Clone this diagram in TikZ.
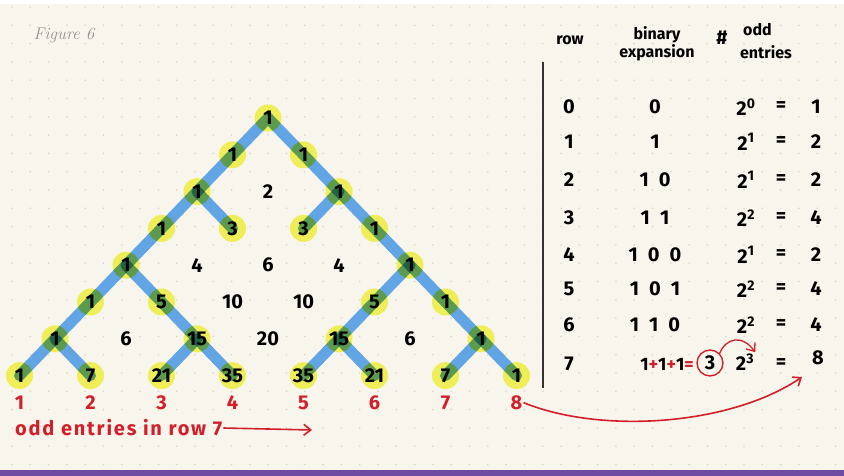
\documentclass[tikz,border=0pt]{standalone}
\usepackage{fontspec}
\newfontfamily\handfont{Fira Sans}
\usetikzlibrary{arrows.meta}
\definecolor{paper}{HTML}{F8F5EC}
\definecolor{dotgray}{HTML}{D9D5C9}
\definecolor{band}{HTML}{6E4BA0}
\definecolor{hilite}{HTML}{F0EE58}
\definecolor{pathblue}{HTML}{62A5E4}
\definecolor{inkred}{HTML}{D21F2A}

\begin{document}
\begin{tikzpicture}[x=1pt,y=-1pt,
  hand/.style={font=\handfont\bfseries\fontsize{20}{22}\selectfont, inner sep=1pt},
  head/.style={font=\handfont\bfseries\fontsize{16}{15}\selectfont, inner sep=1pt},
  oddspot/.style={fill=hilite},
  oddpath/.style={draw=pathblue, line width=11pt, line cap=round},
  redpen/.style={draw=inkred, line width=1.6pt, -{Straight Barb[length=7pt,width=11pt]}},
  note/.style={hand, text=inkred}]
\useasboundingbox (0,0) rectangle (844,476);
\fill[paper] (0,0) rectangle (844,476);
\fill[white] (0,0) rectangle (844,4);
\fill[band] (0,470) rectangle (844,476);
\foreach \i in {0,...,45}
  \foreach \j in {0,...,25}
    \fill[dotgray] ({12+\i*18.3},{7+\j*18.3}) circle (0.9pt);

\node[text=gray!85, font=\itshape\fontsize{17}{18}\selectfont, anchor=west] (figlabel) at (30,35) {Figure 6};

\def\pascalrows{0/{1},1/{1,1},2/{1,2,1},3/{1,3,3,1},4/{1,4,6,4,1},5/{1,5,10,10,5,1},6/{1,6,15,20,15,6,1},7/{1,7,21,35,35,21,7,1}}

\begin{scope}[blend group=multiply]
\foreach \n/\vals in \pascalrows {
  \foreach \v [count=\k from 0] in \vals {
    \coordinate (p-\n-\k) at ({268+(2*\k-\n)*35.5},{118+\n*36.8});
    \pgfmathtruncatemacro{\odd}{mod(\v,2)}
    \ifnum\odd=1 \fill[oddspot] (p-\n-\k) circle (13.5pt); \fi
  }
}
\draw[oddpath] (p-7-0) -- (p-0-0) -- (p-7-7);
\draw[oddpath] (p-2-0) -- (p-3-1);
\draw[oddpath] (p-2-2) -- (p-3-2);
\draw[oddpath] (p-4-0) -- (p-7-3);
\draw[oddpath] (p-4-4) -- (p-7-4);
\draw[oddpath] (p-6-0) -- (p-7-1);
\draw[oddpath] (p-6-2) -- (p-7-2);
\draw[oddpath] (p-6-4) -- (p-7-5);
\draw[oddpath] (p-6-6) -- (p-7-6);
\end{scope}

\foreach \n/\vals in \pascalrows {
  \foreach \v [count=\k from 0] in \vals {
    \node[hand] (e-\n-\k) at (p-\n-\k) {\v};
  }
}

\foreach \k [count=\c] in {0,...,7}
  \node[note] (cnt-\c) at ([yshift=-27pt]p-7-\k) {\c};

\node[note, font=\handfont\bfseries\fontsize{20}{22}\selectfont\addfontfeature{LetterSpace=9}, anchor=west] (row7note) at (14,428) {odd entries in row 7};
\coordinate (note-tip) at (312,430);
\draw[redpen] (row7note.east) -- (note-tip);

\coordinate (rule-top) at (543,62);
\coordinate (rule-bot) at (543,388);
\draw[line width=1.3pt, black!80] (rule-top) -- (rule-bot);

\node[head] (h-row) at (570,40) {row};
\node[head, align=center] (h-bin) at (657,44) {binary\\expansion};
\node[hand] (h-hash) at (722,38) {\#};
\node[head, anchor=west] (h-odd) at (742,30) {odd};
\node[head] (h-ent) at (766,52) {entries};

\foreach \r/\b/\e/\val/\y in {0/0/0/1/107, 1/1/1/2/142, 2/1\enspace0/1/2/180,
    3/1\enspace1/2/4/218, 4/1\enspace0\enspace0/1/2/255, 5/1\enspace0\enspace1/2/4/289,
    6/1\enspace1\enspace0/2/4/325} {
  \node[hand] (r-\r) at (569,\y) {\r};
  \node[hand] (b-\r) at (655,\y) {\b};
  \node[hand] (pw-\r) at (746,\y) {2\textsuperscript{\e}};
  \node[hand] (eq-\r) at (781,\y) {=};
  \node[hand] (v-\r) at (816,\y) {\val};
}
\node[hand] (r-7) at (569,364) {7};
\node[hand, font=\handfont\bfseries\fontsize{18}{18}\selectfont, anchor=east] (sum) at (695,364)
  {1{\color{inkred}+}1{\color{inkred}+}1{\color{inkred}=}};
\node[hand, circle, draw=inkred, line width=1.4pt, inner sep=3pt] (three) at (710,363) {3};
\node[hand] (pw-7) at (745,362) {2\textsuperscript{3}};
\node[hand] (eq-7) at (781,364) {=};
\node[hand] (v-7) at (818,358) {8};

\draw[redpen, line width=1.3pt] (three.north east) .. controls (726,338) and (742,334) .. (pw-7.north east);
\coordinate (eight-tip) at (802,377);
\draw[redpen] (cnt-8.east) .. controls (600,434) and (730,426) .. (eight-tip);
\end{tikzpicture}
\end{document}
